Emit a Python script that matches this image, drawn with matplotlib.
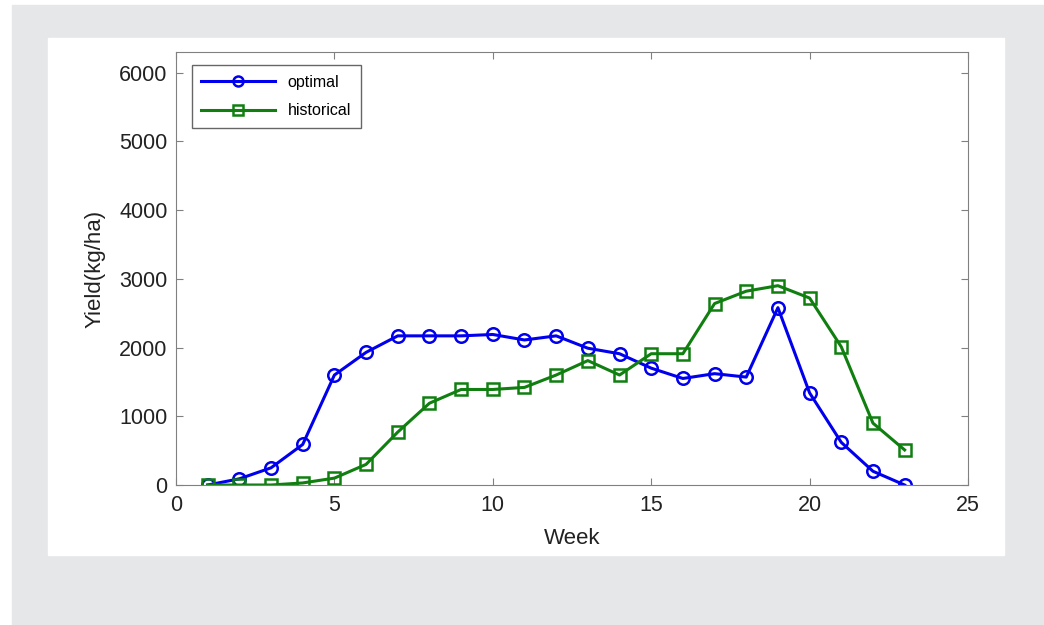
import matplotlib
matplotlib.use("Agg")
import matplotlib.pyplot as plt
from matplotlib.patches import Rectangle

# data
weeks = list(range(1, 24))
optimal = [0, 90, 250, 590, 1600, 1930, 2170, 2170, 2170, 2190, 2110, 2170,
           1990, 1910, 1700, 1550, 1620, 1570, 2580, 1340, 620, 200, 0]
historical = [0, 0, 0, 30, 100, 300, 770, 1190, 1390, 1390, 1420, 1600,
              1810, 1600, 1910, 1910, 2640, 2820, 2900, 2720, 2010, 900, 510]

plt.rcParams["font.family"] = ["Liberation Sans", "DejaVu Sans"]

W, H = 1044, 625
fig = plt.figure(figsize=(W / 100, H / 100), dpi=100)
fig.patch.set_facecolor("white")

# gray backdrop and white panel
fig.patches.append(Rectangle((12 / W, 0), 1 - 12 / W, 1 - 5 / H,
                             transform=fig.transFigure, color="#e6e7e9", zorder=0))
fig.patches.append(Rectangle((48 / W, 1 - 555 / H), (1004 - 48) / W, (555 - 38) / H,
                             transform=fig.transFigure, color="white", zorder=1))

ax = fig.add_axes([176 / W, 1 - 485 / H, (968 - 176) / W, (485 - 52) / H])
ax.set_zorder(2)

ax.plot(weeks, optimal, "-o", color="#0000ee", lw=2.2, ms=9, mfc="none",
        mew=1.8, label="optimal")
ax.plot(weeks, historical, "-s", color="#107f10", lw=2.2, ms=9, mfc="none",
        mew=1.8, label="historical")

ax.set_xlim(0, 25)
ax.set_ylim(0, 6300)
ax.set_xticks([0, 5, 10, 15, 20, 25])
ax.set_yticks([0, 1000, 2000, 3000, 4000, 5000, 6000])
ax.tick_params(direction="in", length=5, colors="#808080", labelcolor="#222222",
               labelsize=15.5, top=True, right=True)
ax.tick_params(axis="x", pad=7)
ax.tick_params(axis="y", pad=6)
for s in ax.spines.values():
    s.set_color("#808080")

ax.set_xlabel("Week", fontsize=16, color="#222222", labelpad=9)
ax.set_ylabel("Yield(kg/ha)", fontsize=16, color="#222222", labelpad=10)

leg = ax.legend(loc="upper left", fontsize=11.5, fancybox=False, framealpha=1,
                edgecolor="#666666", handlelength=4.6, borderpad=0.6,
                labelspacing=0.85, markerscale=0.8,
                bbox_to_anchor=(0.01, 0.988))
leg.get_frame().set_linewidth(1.0)

fig.savefig("out.png", dpi=100, facecolor=fig.get_facecolor())
